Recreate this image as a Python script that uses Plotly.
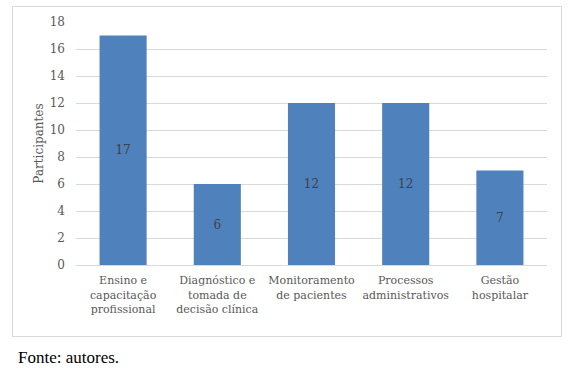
import plotly.graph_objects as go

categories = ["Ensino e<br>capacitação<br>profissional",
              "Diagnóstico e<br>tomada de<br>decisão clínica",
              "Monitoramento<br>de pacientes",
              "Processos<br>administrativos",
              "Gestão<br>hospitalar"]
values = [17, 6, 12, 12, 7]
y_ticks = list(range(0, 19, 2))

W, H = 569, 374
L, T = 76, 22
R = W - 547
B = H - 265
pw, ph = W - L - R, H - T - B

def px(x):
    return (x - L) / pw

def py(y):
    return (H - B - y) / ph

serif = "DejaVu Serif"
fig = go.Figure(go.Bar(
    x=categories, y=values, text=[str(v) for v in values],
    textposition="inside", insidetextanchor="middle",
    textfont=dict(family=serif, size=12, color="#404040"),
    marker=dict(color="#4F81BD", line=dict(width=0)),
    width=0.5, hoverinfo="skip"))

fig.update_layout(
    width=W, height=H, margin=dict(l=L, r=R, t=T, b=B, autoexpand=False),
    paper_bgcolor="white", plot_bgcolor="white",
    showlegend=False, font=dict(family=serif, size=11, color="#595959"),
    xaxis=dict(showgrid=False, showline=True, linecolor="#D9D9D9",
               tickfont=dict(family=serif, size=11, color="#595959"),
               ticks="", ticklabelstandoff=5, fixedrange=True, automargin=False),
    yaxis=dict(range=[0, 18], tickvals=y_ticks, showgrid=True, gridcolor="#D9D9D9",
               zeroline=False, ticks="", ticklabelstandoff=10, automargin=False,
               fixedrange=True,
               tickfont=dict(family=serif, size=12, color="#595959"),
               title=dict(text="Participantes", standoff=3,
                          font=dict(family=serif, size=12, color="#595959"))),
    shapes=[dict(type="rect", xref="paper", yref="paper",
                 x0=px(12.5), x1=px(561.5), y0=py(336.5), y1=py(6.5),
                 line=dict(color="#D9D9D9", width=1), fillcolor="rgba(0,0,0,0)")],
    annotations=[dict(text="Fonte: autores.", xref="paper", yref="paper",
                      x=px(16), y=py(357), xanchor="left", yanchor="middle",
                      showarrow=False,
                      font=dict(family="Liberation Serif", size=17, color="black"))],
)
fig.write_html("out.html", config={"displayModeBar": False},
               post_script="document.body.style.margin='0';document.body.style.overflow='hidden';")
